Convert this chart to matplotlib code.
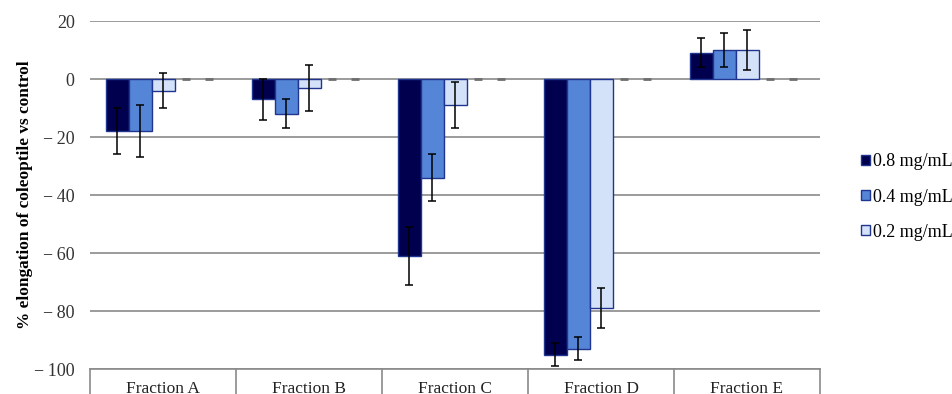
import numpy as np
import matplotlib
matplotlib.use("Agg")
import matplotlib.pyplot as plt
from matplotlib.ticker import FuncFormatter

plt.rcParams['font.family'] = ['Liberation Serif', 'DejaVu Serif']

# Données
fractions = ['Fraction A', 'Fraction B', 'Fraction C', 'Fraction D', 'Fraction E']
doses = ['0.8 mg/mL', '0.4 mg/mL', '0.2 mg/mL']
val_08 = [-18, -7, -61, -95, 9]
val_04 = [-18, -12, -34, -93, 10]
val_02 = [-4, -3, -9, -79, 10]
err_08 = [8, 7, 10, 4, 5]
err_04 = [9, 5, 8, 4, 6]
err_02 = [6, 8, 8, 7, 7]
# deux séries vides (valeur 0) dessinées en pointillé
val_empty1 = [0, 0, 0, 0, 0]
val_empty2 = [0, 0, 0, 0, 0]
yticks = [20, 0, -20, -40, -60, -80, -100]

colors = ['#00004f', '#5585d6', '#d3e2f8']
edge = '#1f3590'
grid_col = '#8a8a8a'

fig = plt.figure(figsize=(9.52, 3.94), dpi=100)
ax = fig.add_axes([90 / 952, 25 / 394, 730 / 952, 348 / 394])

x = np.arange(len(fractions))
w = 23 / 146
offsets = (np.arange(5) - 2) * w

series = [val_08, val_04, val_02]
errors = [err_08, err_04, err_02]
for i in range(3):
    ax.bar(x + offsets[i], series[i], w, color=colors[i], edgecolor=edge,
           linewidth=1.0, label=doses[i], zorder=3)
    ax.errorbar(x + offsets[i], series[i], yerr=errors[i], fmt='none',
                ecolor='black', elinewidth=1.1, capsize=2.8, capthick=1.1, zorder=4)

for i, vals in enumerate([val_empty1, val_empty2]):
    xc = x + offsets[3 + i]
    ax.hlines(vals, xc - 0.16 * w, xc + 0.16 * w, color='#6e6e6e', lw=2, zorder=3)

ax.set_xlim(-0.5, len(fractions) - 0.5)
ax.set_ylim(-100, 20)
ax.set_yticks(yticks)
ax.yaxis.set_major_formatter(FuncFormatter(
    lambda v, p: ('\u2212\u2009%d' % abs(v)) if v < 0 else '%d' % v))
ax.yaxis.grid(True, color=grid_col, lw=1.2, zorder=0)
ax.set_axisbelow(True)
for s in ['left', 'right', 'top']:
    ax.spines[s].set_visible(False)
ax.spines['bottom'].set_color(grid_col)
ax.spines['bottom'].set_linewidth(1.2)
ax.tick_params(axis='y', length=0, pad=11, labelsize=13, labelcolor='#333333')
ax.set_xticks([])

# séparateurs de catégories sous l'axe
for b in np.arange(len(fractions) + 1) - 0.5:
    ax.plot([b, b], [0, -0.12], transform=ax.get_xaxis_transform(),
            color=grid_col, lw=1.2, clip_on=False)
for xi, name in zip(x, fractions):
    ax.text(xi, -0.035, name, transform=ax.get_xaxis_transform(),
            ha='center', va='top', fontsize=12.5, color='#222222')

ax.set_ylabel('% elongation of coleoptile vs control', fontsize=12.4,
              fontweight='bold')
ax.yaxis.set_label_coords(-0.078, 0.5)

fig.legend(loc='center left', bbox_to_anchor=(861 / 952, 197 / 394),
           frameon=False, fontsize=13, handlelength=0.5, handleheight=0.5,
           handletextpad=0.15, labelspacing=1.0, borderpad=0, borderaxespad=0)

plt.savefig('out.png', dpi=100)
